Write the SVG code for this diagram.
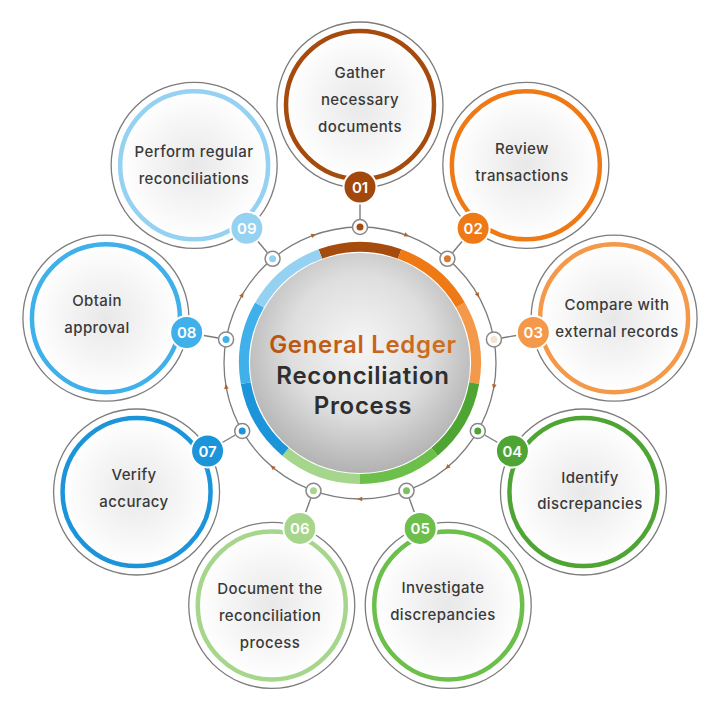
<svg xmlns="http://www.w3.org/2000/svg" xmlns:xlink="http://www.w3.org/1999/xlink" width="720" height="703" viewBox="0 0 720 703">
<defs>
<radialGradient id="hubFill" cx="50%" cy="42%" r="58%">
<stop offset="0" stop-color="#f6f6f6"/>
<stop offset="0.55" stop-color="#dedede"/>
<stop offset="1" stop-color="#b2b2b2"/>
</radialGradient>
<radialGradient id="nodeFill" cx="50%" cy="50%" r="50%">
<stop offset="0" stop-color="#e8e8e8"/>
<stop offset="0.7" stop-color="#f8f8f8"/>
<stop offset="1" stop-color="#ffffff"/>
</radialGradient>
<linearGradient id="titleGrad" x1="0" y1="0" x2="1" y2="0">
<stop offset="0" stop-color="#b9530f"/>
<stop offset="1" stop-color="#d2701f"/>
</linearGradient>
<path id="tick" d="M2.8,0 L-2.2,-2.3 L-2.2,2.3 Z" fill="#b5652a"/>
</defs>
<style>
.outer{fill:#ffffff;stroke:#7c7c7c;stroke-width:1.3}
.inner{fill:url(#nodeFill);stroke-width:4.5}
.badge{stroke:#ffffff;stroke-width:2}
.num{font-family:Inter,"Noto Sans","Liberation Sans",sans-serif;font-size:15px;font-weight:600;fill:#ffffff;text-anchor:middle}
.lbl{font-family:Inter,"Noto Sans","Liberation Sans",sans-serif;font-size:15px;font-weight:500;letter-spacing:0.4px;fill:#3a3a3a;text-anchor:middle}
.seg{fill:none;stroke-width:10}
.conn{stroke:#7c7c7c;stroke-width:1.4;fill:none}
.dot{fill:#ffffff;stroke:#888888;stroke-width:1.5}
.title{font-family:Inter,"Noto Sans","Liberation Sans",sans-serif;font-size:24px;font-weight:600;letter-spacing:0.7px;text-anchor:middle}
</style>
<rect width="720" height="703" fill="#ffffff"/>

<!-- hub -->
<g id="hub">
<circle cx="360" cy="363" r="136" fill="none" stroke="#7c7c7c" stroke-width="1.3"/>
<circle cx="360" cy="363" r="121.5" fill="#ffffff"/>
<circle cx="360" cy="363" r="110" fill="url(#hubFill)"/>
<path class="seg" stroke="#a64b0e" d="M320.33,254 A116,116 0 0 1 399.67,254"/>
<path class="seg" stroke="#ef7a15" d="M399.67,254 A116,116 0 0 1 460.46,305"/>
<path class="seg" stroke="#f4994a" d="M460.46,305 A116,116 0 0 1 474.24,383.14"/>
<path class="seg" stroke="#4fa534" d="M474.24,383.14 A116,116 0 0 1 434.56,451.86"/>
<path class="seg" stroke="#6dbf4b" d="M434.56,451.86 A116,116 0 0 1 360,479"/>
<path class="seg" stroke="#a6d68c" d="M360,479 A116,116 0 0 1 285.44,451.86"/>
<path class="seg" stroke="#1b94da" d="M285.44,451.86 A116,116 0 0 1 245.76,383.14"/>
<path class="seg" stroke="#3fb0ea" d="M245.76,383.14 A116,116 0 0 1 259.54,305"/>
<path class="seg" stroke="#95d2f2" d="M259.54,305 A116,116 0 0 1 320.33,254"/>
<use xlink:href="#tick" transform="translate(406.51,235.2) rotate(20)"/>
<use xlink:href="#tick" transform="translate(477.78,295) rotate(60)"/>
<use xlink:href="#tick" transform="translate(493.93,386.62) rotate(100)"/>
<use xlink:href="#tick" transform="translate(447.42,467.18) rotate(140)"/>
<use xlink:href="#tick" transform="translate(360,499) rotate(180)"/>
<use xlink:href="#tick" transform="translate(272.58,467.18) rotate(220)"/>
<use xlink:href="#tick" transform="translate(226.07,386.62) rotate(260)"/>
<use xlink:href="#tick" transform="translate(242.22,295) rotate(300)"/>
<use xlink:href="#tick" transform="translate(313.49,235.2) rotate(340)"/>
<text class="title" x="363" y="353" fill="url(#titleGrad)">General Ledger</text>
<text class="title" x="363" y="384" fill="#2e2e2e">Reconciliation</text>
<text class="title" x="363" y="414" fill="#2e2e2e">Process</text>
</g>

<!-- connectors -->
<g id="connectors">
<line class="conn" x1="360" y1="219" x2="360" y2="203"/>
<line class="conn" x1="452.56" y1="252.70" x2="462.85" y2="240.44"/>
<line class="conn" x1="501.81" y1="338.0" x2="517.57" y2="335.22"/>
<line class="conn" x1="484.70" y1="435" x2="498.56" y2="443"/>
<line class="conn" x1="409.25" y1="498.32" x2="414.72" y2="513.35"/>
<line class="conn" x1="310.75" y1="498.32" x2="305.28" y2="513.35"/>
<line class="conn" x1="235.30" y1="435" x2="221.44" y2="443"/>
<line class="conn" x1="218.19" y1="338.0" x2="202.43" y2="335.22"/>
<line class="conn" x1="267.44" y1="252.70" x2="257.15" y2="240.44"/>
<circle class="dot" cx="360" cy="227" r="7.5"/><circle cx="360" cy="227" r="3.5" fill="#a64b0e"/>
<circle class="dot" cx="447.42" cy="258.82" r="7.5"/><circle cx="447.42" cy="258.82" r="3.5" fill="#d9782a"/>
<circle class="dot" cx="493.93" cy="339.38" r="7.5"/><circle cx="493.93" cy="339.38" r="3.5" fill="#f6e3d2"/>
<circle class="dot" cx="477.78" cy="431" r="7.5"/><circle cx="477.78" cy="431" r="3.5" fill="#4fa534"/>
<circle class="dot" cx="406.51" cy="490.8" r="7.5"/><circle cx="406.51" cy="490.8" r="3.5" fill="#7fbf63"/>
<circle class="dot" cx="313.49" cy="490.8" r="7.5"/><circle cx="313.49" cy="490.8" r="3.5" fill="#a6d68c"/>
<circle class="dot" cx="242.22" cy="431" r="7.5"/><circle cx="242.22" cy="431" r="3.5" fill="#1b94da"/>
<circle class="dot" cx="226.07" cy="339.38" r="7.5"/><circle cx="226.07" cy="339.38" r="3.5" fill="#3fb0ea"/>
<circle class="dot" cx="272.58" cy="258.82" r="7.5"/><circle cx="272.58" cy="258.82" r="3.5" fill="#95d2f2"/>
</g>

<g id="node01">
<circle class="outer" cx="360" cy="105" r="83"/>
<circle class="inner" cx="360" cy="105" r="74" stroke="#a64b0e"/>
<text class="lbl" x="360" y="78">Gather</text>
<text class="lbl" x="360" y="105">necessary</text>
<text class="lbl" x="360" y="132">documents</text>
<circle class="badge" cx="360" cy="187" r="16.5" fill="#a3480c"/>
<text class="num" x="360" y="192.5">01</text>
</g>

<g id="node02">
<circle class="outer" cx="525.84" cy="165.37" r="83"/>
<circle class="inner" cx="525.84" cy="165.37" r="74" stroke="#ef7a15"/>
<text class="lbl" x="522" y="154">Review</text>
<text class="lbl" x="522" y="181">transactions</text>
<circle class="badge" cx="473.13" cy="228.18" r="16.5" fill="#ef7a15"/>
<text class="num" x="473.13" y="233.68">02</text>
</g>

<g id="node03">
<circle class="outer" cx="614.08" cy="318.2" r="83"/>
<circle class="inner" cx="614.08" cy="318.2" r="74" stroke="#f4994a"/>
<text class="lbl" x="617" y="310">Compare with</text>
<text class="lbl" x="617" y="337">external records</text>
<circle class="badge" cx="533.33" cy="332.44" r="16.5" fill="#f4994a"/>
<text class="num" x="533.33" y="337.94">03</text>
</g>

<g id="node04">
<circle class="outer" cx="583.43" cy="492" r="83"/>
<circle class="inner" cx="583.43" cy="492" r="74" stroke="#4fa534"/>
<text class="lbl" x="590" y="483">Identify</text>
<text class="lbl" x="590" y="509">discrepancies</text>
<circle class="badge" cx="512.42" cy="451" r="16.5" fill="#4fa534"/>
<text class="num" x="512.42" y="456.5">04</text>
</g>

<g id="node05">
<circle class="outer" cx="448.24" cy="605.44" r="83"/>
<circle class="inner" cx="448.24" cy="605.44" r="74" stroke="#6dbf4b"/>
<text class="lbl" x="443" y="593">Investigate</text>
<text class="lbl" x="443" y="620">discrepancies</text>
<circle class="badge" cx="420.19" cy="528.39" r="16.5" fill="#6dbf4b"/>
<text class="num" x="420.19" y="533.89">05</text>
</g>

<g id="node06">
<circle class="outer" cx="271.76" cy="605.44" r="83"/>
<circle class="inner" cx="271.76" cy="605.44" r="74" stroke="#a6d68c"/>
<text class="lbl" x="270" y="594">Document the</text>
<text class="lbl" x="270" y="621">reconciliation</text>
<text class="lbl" x="270" y="648">process</text>
<circle class="badge" cx="299.81" cy="528.39" r="16.5" fill="#a6d68c"/>
<text class="num" x="299.81" y="533.89">06</text>
</g>

<g id="node07">
<circle class="outer" cx="136.57" cy="492" r="83"/>
<circle class="inner" cx="136.57" cy="492" r="74" stroke="#1b94da"/>
<text class="lbl" x="134" y="480">Verify</text>
<text class="lbl" x="134" y="507">accuracy</text>
<circle class="badge" cx="207.58" cy="451" r="16.5" fill="#1b94da"/>
<text class="num" x="207.58" y="456.5">07</text>
</g>

<g id="node08">
<circle class="outer" cx="105.92" cy="318.2" r="83"/>
<circle class="inner" cx="105.92" cy="318.2" r="74" stroke="#3fb0ea"/>
<text class="lbl" x="97" y="306">Obtain</text>
<text class="lbl" x="97" y="333">approval</text>
<circle class="badge" cx="186.67" cy="332.44" r="16.5" fill="#3fb0ea"/>
<text class="num" x="186.67" y="337.94">08</text>
</g>

<g id="node09">
<circle class="outer" cx="194.16" cy="165.37" r="83"/>
<circle class="inner" cx="194.16" cy="165.37" r="74" stroke="#95d2f2"/>
<text class="lbl" x="194" y="157">Perform regular</text>
<text class="lbl" x="194" y="184">reconciliations</text>
<circle class="badge" cx="246.87" cy="228.18" r="16.5" fill="#95d2f2"/>
<text class="num" x="246.87" y="233.68">09</text>
</g>
</svg>
